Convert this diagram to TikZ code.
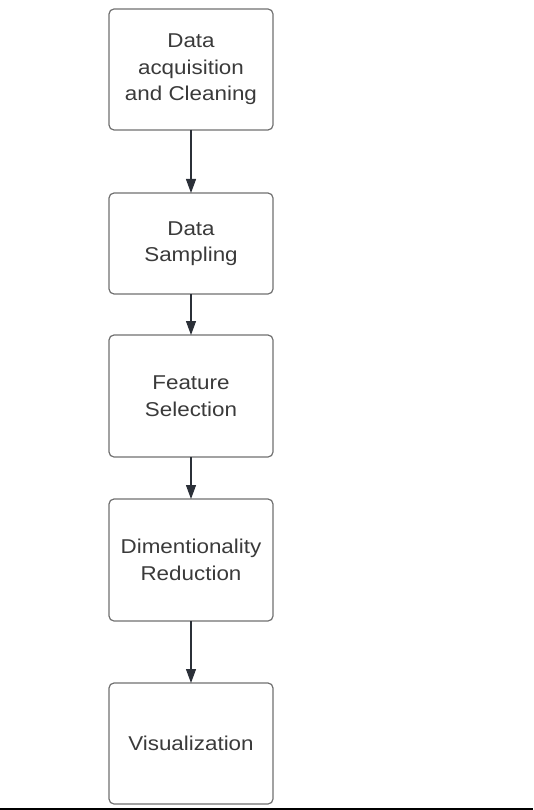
\documentclass[tikz,border=0pt]{standalone}
\usepackage{fontspec}
\setmainfont[FakeStretch=1.12]{Liberation Sans}
\usetikzlibrary{calc,arrows.meta}

\definecolor{boxline}{HTML}{707070}
\definecolor{boxtext}{HTML}{3A3A3A}
\definecolor{flowline}{HTML}{2B3038}

\tikzset{
    stagebox/.style={draw=boxline, line width=1.2pt, rounded corners=5pt,
        minimum width=164pt, align=center, text=boxtext,
        font=\fontsize{20pt}{26.5pt}\selectfont, inner sep=0pt},
    flow/.style={draw=flowline, line width=1.2pt,
        -{Triangle[length=14pt,width=10pt]}}
}

\begin{document}
\begin{tikzpicture}[outer sep=0pt]
    \useasboundingbox (0,0) rectangle (533pt,-810pt);

    % acquisition
    \node[stagebox, anchor=north, minimum height=121pt] (acq) at (191pt, -9pt)
    {Data\\acquisition\\and Cleaning};

    % sampling
    \node[stagebox, anchor=north, minimum height=101pt] (samp)
    at ($(acq.south) + (0pt, -63pt)$)
    {Data\\Sampling};

    % feature selection
    \node[stagebox, anchor=north, minimum height=122pt] (feat)
    at ($(samp.south) + (0pt, -41pt)$)
    {Feature\\Selection};

    % reduction
    \node[stagebox, anchor=north, minimum height=122pt] (dimred)
    at ($(feat.south) + (0pt, -42pt)$)
    {Dimentionality\\Reduction};

    % visualization
    \node[stagebox, anchor=north, minimum height=121pt] (vis)
    at ($(dimred.south) + (0pt, -62pt)$)
    {Visualization};

    % arrows
    \draw[flow] (acq) -- (samp);
    \draw[flow] (samp) -- (feat);
    \draw[flow] (feat) -- (dimred);
    \draw[flow] (dimred) -- (vis);

    % bottom edge
    \coordinate (edge_l) at (0pt, -809pt);
    \coordinate (edge_r) at (533pt, -809pt);
    \draw[black, line width=2pt] (edge_l) -- (edge_r);
\end{tikzpicture}
\end{document}
